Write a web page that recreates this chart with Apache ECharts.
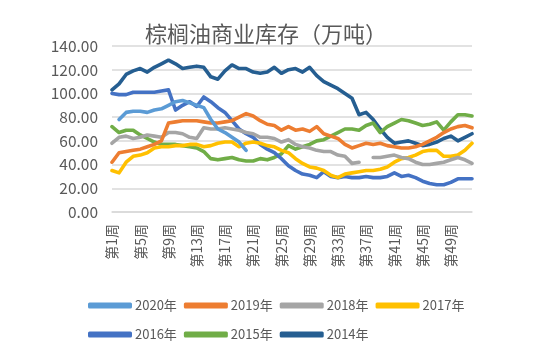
<!DOCTYPE html>
<html>
<head>
<meta charset="utf-8">
<script src="https://cdn.jsdelivr.net/npm/echarts@6/dist/echarts.min.js"></script>
<style>
html,body{margin:0;padding:0;background:#fff;}
#chart{width:535px;height:357px;}
</style>
</head>
<body>
<div id="chart"></div>
<script>
var weeks = [];
for (var i = 1; i <= 52; i++) weeks.push('第' + i + '周');

var yTicks = [0, 20, 40, 60, 80, 100, 120, 140];

var s2020 = [null,78,84,85,85,84,86,87,90,93,94,92,90,88,78,70,67,63,59,52];
var s2019 = [42,50,51,52,53,55,57,60,75,76,77,77,77,76,75,75,76,77,80,83,81,77,74,73,69,72,69,70,68,72,66,64,62,57,54,56,58,57,58,56,55,54,54,55,57,60,63,67,70,72,73,71];
var s2018 = [58,63,64,62,63,65,64,63,67,67,66,63,62,71,70,70,71,70,69,67,66,63,63,62,59,61,57,55,54,52,51,51,48,47,41,42,null,46,46,47,48,46,45,42,40,40,41,42,44,46,44,41];
var s2017 = [35,33,42,47,48,50,54,55,55,56,56,57,57,55,56,58,59,59,55,58,59,58,56,55,52,50,45,41,38,37,35,31,29,32,33,34,35,35,36,38,42,45,46,48,51,52,52,47,47,48,52,58];
var s2016 = [100,99,99,101,101,101,101,102,103,86,90,93,89,97,93,88,84,77,70,66,63,57,53,50,45,39,35,32,31,29,34,30,29,30,29,29,30,29,29,30,33,30,31,29,26,24,23,23,25,28,28,28];
var s2015 = [72,67,69,69,65,62,59,57,57,57,56,55,54,51,45,44,45,46,44,43,43,45,44,46,49,56,53,55,57,60,61,64,67,70,70,69,73,75,67,72,75,78,77,75,73,74,76,69,76,82,82,81];
var s2014 = [103,108,116,119,121,118,122,125,128,125,121,122,123,122,114,112,119,124,121,121,118,117,118,122,117,120,121,118,122,115,110,107,104,100,96,82,84,78,70,63,58,59,60,58,56,57,59,62,64,60,63,66];

var names = ['2020年','2019年','2018年','2017年','2016年','2015年','2014年'];
var colors = ['#5B9BD5','#ED7D31','#A5A5A5','#FFC000','#4472C4','#70AD47','#255E91'];
var dataSets = [s2020, s2019, s2018, s2017, s2016, s2015, s2014];

var font = '"Noto Sans CJK SC", "Noto Sans", sans-serif';
var series = names.map(function (n, k) {
  return {
    name: n, type: 'line', data: dataSets[k], showSymbol: false, symbol: 'none',
    lineStyle: { width: 3.6, color: colors[k], cap: 'round', join: 'round' },
    itemStyle: { color: colors[k] },
    connectNulls: false, z: 10 - k
  };
});

var legendCommon = {
  left: 83, icon: 'roundRect', itemWidth: 44, itemHeight: 6, itemGap: 7,
  textStyle: { color: '#595959', fontSize: 13, fontFamily: font, padding: [0,0,0,-2] }
};

var chart = echarts.init(document.getElementById('chart'), null, { renderer: 'canvas' });
chart.setOption({
  backgroundColor: '#fff',
  animation: false,
  color: colors,
  title: {
    text: '棕榈油商业库存（万吨）', left: 140, top: 18,
    textStyle: { color: '#595959', fontSize: 22, fontWeight: 'normal', fontFamily: font }
  },
  legend: [
    Object.assign({}, legendCommon, { top: 294, data: names.slice(0, 4) }),
    Object.assign({}, legendCommon, { top: 323, data: names.slice(4) })
  ],
  grid: { left: 112, right: 63, top: 46, bottom: 145, containLabel: false },
  xAxis: {
    type: 'category', data: weeks, boundaryGap: false,
    axisLine: { show: true, lineStyle: { color: '#d9d9d9', width: 1.5 } },
    axisTick: { show: false },
    axisLabel: { interval: 3, rotate: 90, color: '#595959', fontSize: 14, fontFamily: font, margin: 12 },
    splitLine: { show: false }
  },
  yAxis: {
    type: 'value', min: yTicks[0], max: yTicks[yTicks.length - 1], interval: 20,
    axisLine: { show: false }, axisTick: { show: false },
    axisLabel: { color: '#595959', fontSize: 15.5, fontFamily: font, margin: 14,
      formatter: function (v) { return v.toFixed(2); } },
    splitLine: { lineStyle: { color: '#d9d9d9', width: 1.5 } }
  },
  series: series
});
</script>
</body>
</html>
